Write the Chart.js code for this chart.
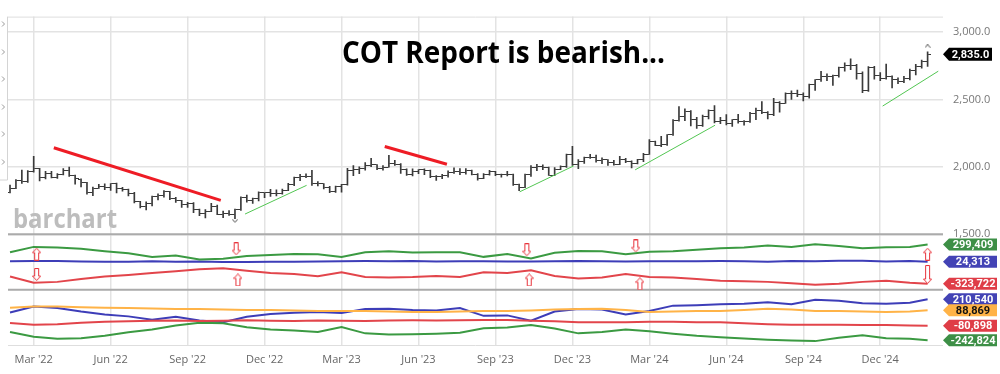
<!DOCTYPE html>
<html>
<head>
<meta charset="utf-8">
<title>COT Report is bearish</title>
<script src="https://cdn.jsdelivr.net/npm/chart.js@4.4.1/dist/chart.umd.min.js"></script>
<style>
  body { margin: 0; background: #fff; }
  canvas { display: block; }
</style>
</head>
<body>
<canvas id="cotChart" width="1000" height="374"></canvas>
<script>
// weekly gold futures bars, week 0 = week of Feb 7 2022, last = week of Jan 27 2025
const priceOpen = [
  1808,1842,1899,1889,1966,1985,1921,1954,1923,1945,
  1974,1934,1910,1882,1808,1842,1851,1850,1875,1840,
  1830,1801,1742,1703,1727,1781,1791,1815,1762,1749,
  1721,1728,1683,1655,1672,1709,1648,1657,1648,1681,
  1771,1754,1768,1809,1810,1800,1805,1826,1870,1921,
  1928,1929,1876,1874,1850,1817,1856,1867,1973,1983,
  1986,2011,2015,1990,1999,2025,2019,1981,1944,1969,
  1977,1970,1930,1929,1933,1961,1964,1960,1976,1946,
  1916,1940,1966,1942,1945,1945,1866,1845,1941,1994,
  2006,1999,1938,1984,2003,2089,2014,2037,2070,2071,
  2050,2051,2029,2018,2054,2038,2024,2051,2095,2186,
  2161,2165,2238,2345,2374,2413,2349,2308,2375,2419,
  2335,2345,2325,2349,2334,2339,2397,2421,2400,2385,
  2480,2472,2546,2547,2536,2524,2611,2646,2668,2667,
  2676,2736,2755,2749,2690,2567,2738,2681,2657,2671,
  2645,2635,2654,2715,2748,2779
];
const priceHigh = [
  1865,1905,1976,1972,2079,1990,1966,1967,1950,1988,
  1999,1940,1912,1885,1850,1870,1874,1876,1880,1848,
  1835,1812,1745,1740,1784,1800,1824,1819,1774,1752,
  1737,1735,1687,1684,1730,1716,1672,1676,1686,1777,
  1791,1768,1815,1810,1833,1830,1836,1878,1924,1944,
  1949,1975,1890,1876,1856,1858,1870,1990,2009,2000,
  2032,2063,2017,2010,2085,2049,2025,1986,1985,1980,
  1986,1976,1935,1945,1970,1992,1987,1988,1977,1950,
  1950,1974,1967,1947,1966,1947,1873,1946,2009,2019,
  2015,1999,1994,2008,2095,2152,2054,2073,2093,2088,
  2067,2054,2049,2078,2064,2044,2056,2100,2203,2192,
  2226,2240,2350,2448,2431,2418,2368,2385,2424,2454,
  2368,2388,2350,2390,2344,2404,2436,2485,2411,2508,
  2485,2549,2565,2570,2549,2614,2648,2708,2690,2682,
  2740,2772,2801,2760,2705,2745,2746,2700,2762,2675,
  2660,2671,2725,2760,2792,2853
];
const priceLow = [
  1806,1838,1878,1885,1960,1895,1910,1918,1915,1940,
  1930,1872,1852,1798,1787,1840,1830,1826,1806,1820,
  1784,1732,1695,1680,1711,1754,1776,1757,1737,1700,
  1700,1660,1638,1622,1667,1645,1623,1640,1616,1676,
  1738,1728,1747,1772,1780,1785,1797,1823,1860,1897,
  1920,1862,1858,1836,1809,1810,1813,1865,1934,1950,
  1975,2002,1980,1976,1997,2010,1952,1937,1932,1950,
  1943,1920,1900,1912,1924,1952,1942,1945,1941,1902,
  1912,1938,1934,1924,1932,1862,1823,1845,1930,1971,
  1980,1936,1935,1979,1996,2010,1987,2025,2062,2035,
  2024,2011,2012,2016,2031,1993,2022,2039,2093,2157,
  2150,2160,2234,2340,2342,2303,2286,2301,2355,2326,
  2320,2311,2300,2325,2309,2330,2351,2395,2356,2380,
  2405,2470,2500,2520,2490,2510,2568,2634,2640,2605,
  2665,2710,2722,2650,2550,2560,2650,2640,2650,2585,
  2617,2625,2645,2683,2733,2745
];
const priceClose = [
  1842,1899,1889,1966,1985,1921,1954,1923,1945,1974,
  1934,1911,1882,1808,1842,1851,1850,1875,1840,1830,
  1801,1742,1703,1727,1781,1791,1815,1762,1749,1721,
  1728,1683,1655,1672,1709,1648,1657,1648,1681,1771,
  1754,1768,1809,1810,1800,1805,1826,1870,1921,1928,
  1929,1876,1874,1850,1817,1856,1867,1973,1983,1986,
  2011,2015,1990,1999,2025,2019,1981,1944,1969,1977,
  1970,1930,1929,1933,1961,1964,1960,1976,1946,1916,
  1940,1966,1942,1945,1945,1866,1845,1941,1994,2006,
  1999,1938,1984,2003,2089,2014,2037,2070,2071,2050,
  2051,2029,2018,2054,2038,2024,2051,2095,2186,2161,
  2165,2238,2345,2374,2413,2349,2308,2375,2419,2335,
  2345,2325,2349,2334,2339,2397,2421,2400,2385,2480,
  2472,2546,2547,2536,2524,2611,2646,2668,2667,2676,
  2736,2755,2749,2694,2567,2738,2681,2657,2671,2645,
  2635,2654,2715,2748,2779,2835
];

// x axis ticks: first weekly bar of Mar / Jun / Sep / Dec
const tickWeeks = [4, 17, 30, 43, 56, 69, 82, 95, 108, 121, 134, 147];
const tickLabels = ["Mar '22", "Jun '22", "Sep '22", "Dec '22", "Mar '23", "Jun '23",
  "Sep '23", "Dec '23", "Mar '24", "Jun '24", "Sep '24", "Dec '24"];
const priceTicks = [1500, 2000, 2500, 3000];

// COT net positions, thousands of contracts, read every 4 weeks
const cotWeeks = [0,4,8,12,16,20,24,28,32,36,40,44,48,52,56,60,64,68,72,76,
  80,84,88,92,96,100,104,108,112,116,120,124,128,132,136,140,144,148,152,155];
const largeSpecNet = [176,260,252,229,191,160,99,122,60,72,117,132,149,142,99,176,191,172,176,176,
  102,148,76,168,195,191,145,183,191,214,237,252,283,260,303,275,237,255,260,299.409];
const smallSpecNet = [33,36,35,30,26,26,32,24,28,22,20,26,26,30,34,36,34,38,30,34,
  32,28,30,32,38,34,30,34,32,32,36,32,26,38,34,40,42,28,38,24.313];
const commercialNet = [-209,-309,-294,-247,-209,-186,-155,-124,-94,-78,-117,-155,-171,-206,-140,-217,-224,-217,-201,-217,
  -140,-155,-109,-201,-240,-224,-171,-217,-224,-247,-278,-286,-294,-317,-340,-324,-294,-278,-309,-323.722];
const managedMoneyNet = [65,132,114,76,44,22,-15,17,-23,-42,17,49,63,71,60,103,106,92,87,114,
  28,33,-26,76,103,98,44,81,141,146,155,162,178,157,205,194,167,162,173,210.54];
const swapDealerNet = [117,130,130,124,117,114,108,103,103,98,92,92,87,81,81,81,76,71,71,76,
  81,81,87,98,103,106,92,71,76,81,81,92,106,98,81,81,76,71,76,88.869];
const producerNet = [-51,-72,-64,-48,-37,-31,-26,-24,-28,-26,-22,-26,-28,-24,-26,-28,-24,-22,-23,-21,
  -19,-19,-26,-31,-42,-44,-42,-37,-37,-42,-44,-53,-64,-72,-72,-72,-74,-74,-78,-80.898];
const otherReportNet = [-152,-203,-225,-220,-193,-155,-123,-80,-48,-53,-98,-123,-134,-152,-96,-166,-180,-177,-169,-158,
  -109,-101,-74,-112,-166,-150,-123,-144,-171,-193,-209,-223,-236,-246,-252,-214,-187,-220,-225,-242.824];

// hand drawn trend lines on the price pane: [startWeek, startPrice, endWeek, endPrice]
const bearTrends = [[7.4, 2142, 35.6, 1751], [63.3, 2151, 73.8, 2019]];
const bullTrends = [[39.7, 1650, 50.1, 1863], [86.1, 1815, 95.2, 2007],
  [105.6, 1978, 119.1, 2309], [147.4, 2451, 156.8, 2710]];

// signal arrows in the upper COT pane
const arrowUpWeeks = [4.5, 38.5, 87.7, 106.4, 155];
const arrowUpValues = [145, -263, -263, -324, 145];
const arrowDownWeeks = [4.5, 38.2, 87.3, 105.7, 155];
const arrowDownValues = [-178, 229, 214, 275, -178];

// swing markers on the price pane
const swingLowWeeks = [38];
const swingLowValues = [1597];
const swingHighWeeks = [155];
const swingHighValues = [2899];

const GREEN = '#3b9a42';
const BLUE = '#3d3db8';
const RED = '#e2454b';
const ORANGE = '#ffb347';
const BAR = '#3a3a3a';

const weeks = priceClose.map((_, i) => i);
const xy = (xs, ys) => xs.map((x, i) => ({ x: x, y: ys[i] }));
const last = arr => arr[arr.length - 1];

// small canvases used as point styles
function tickImage(side) {
  const c = document.createElement('canvas');
  c.width = 7; c.height = 1;
  const g = c.getContext('2d');
  g.fillStyle = BAR;
  g.fillRect(side === 'open' ? 0 : 4, 0, 3, 1);
  return c;
}

function arrowImage(dir, len) {
  const c = document.createElement('canvas');
  c.width = 9; c.height = len;
  const g = c.getContext('2d');
  if (dir === 'down') { g.translate(0, len); g.scale(1, -1); }
  g.beginPath();
  g.moveTo(4.5, 0.5);
  g.lineTo(8.5, 5);
  g.lineTo(6.5, 5);
  g.lineTo(6.5, len - 0.5);
  g.lineTo(2.5, len - 0.5);
  g.lineTo(2.5, 5);
  g.lineTo(0.5, 5);
  g.closePath();
  g.fillStyle = '#fff';
  g.fill();
  g.strokeStyle = '#e8323a';
  g.lineWidth = 1;
  g.stroke();
  return c;
}

function swingImage(dir) {
  const c = document.createElement('canvas');
  c.width = 6; c.height = 5;
  const g = c.getContext('2d');
  g.strokeStyle = '#555';
  g.lineWidth = 1;
  g.beginPath();
  if (dir === 'high') {
    g.moveTo(0.5, 4.5); g.lineTo(3, 1); g.lineTo(5.5, 4.5);
  } else {
    g.moveTo(0.5, 0.5); g.quadraticCurveTo(3, 6, 5.5, 0.5);
  }
  g.stroke();
  return c;
}

const arrowUp = arrowImage('up', 13);
const arrowDown = arrowImage('down', 13);
const arrowDownLong = arrowImage('down', 19);

function trendDataset(t, color, width) {
  return {
    type: 'line',
    data: [{ x: t[0], y: t[1] }, { x: t[2], y: t[3] }],
    yAxisID: 'yPrice',
    borderColor: color,
    borderWidth: width,
    pointRadius: 0,
    order: 0
  };
}

function cotLine(values, color, axis) {
  return {
    type: 'line',
    data: xy(cotWeeks, values),
    yAxisID: axis,
    borderColor: color,
    borderWidth: 2,
    pointRadius: 0,
    tension: 0,
    order: 3
  };
}

const datasets = [
  ...bearTrends.map(t => trendDataset(t, '#ee1c25', 3)),
  ...bullTrends.map(t => trendDataset(t, '#52c652', 1)),
  // OHLC bars: range + open tick + close tick
  {
    type: 'bar',
    data: weeks.map(i => ({ x: i, y: [priceLow[i], priceHigh[i]] })),
    yAxisID: 'yPrice',
    backgroundColor: BAR,
    barThickness: 1,
    order: 2
  },
  { type: 'line', data: xy(weeks, priceOpen), showLine: false, pointStyle: tickImage('open'), pointRadius: 3, yAxisID: 'yPrice', order: 2 },
  { type: 'line', data: xy(weeks, priceClose), showLine: false, pointStyle: tickImage('close'), pointRadius: 3, yAxisID: 'yPrice', order: 2 },
  { type: 'line', data: xy(swingLowWeeks, swingLowValues), showLine: false, pointStyle: swingImage('low'), pointRadius: 3, yAxisID: 'yPrice', order: 2 },
  { type: 'line', data: xy(swingHighWeeks, swingHighValues), showLine: false, pointStyle: swingImage('high'), pointRadius: 3, yAxisID: 'yPrice', order: 2 },
  // upper COT pane
  cotLine(largeSpecNet, GREEN, 'yCot'),
  cotLine(smallSpecNet, BLUE, 'yCot'),
  cotLine(commercialNet, RED, 'yCot'),
  {
    type: 'line', data: xy(arrowUpWeeks, arrowUpValues), showLine: false,
    pointStyle: arrowUp, pointRadius: 4, yAxisID: 'yCot', order: 1
  },
  {
    type: 'line', data: xy(arrowDownWeeks, arrowDownValues), showLine: false,
    pointStyle: ctx => (ctx.dataIndex === arrowDownWeeks.length - 1 ? arrowDownLong : arrowDown),
    pointRadius: 4, yAxisID: 'yCot', order: 1
  },
  // lower COT pane
  cotLine(swapDealerNet, ORANGE, 'yNet'),
  cotLine(producerNet, RED, 'yNet'),
  cotLine(otherReportNet, GREEN, 'yNet'),
  cotLine(managedMoneyNet, BLUE, 'yNet')
];

// value tags on the right edge, drawn on top of everything
const valueTags = [
  { axis: 'yCot', value: last(largeSpecNet), bg: '#3d8f46', fg: '#fff' },
  { axis: 'yCot', value: last(smallSpecNet), bg: '#4343b5', fg: '#fff' },
  { axis: 'yCot', value: last(commercialNet), bg: '#df3d47', fg: '#fff' },
  { axis: 'yNet', value: last(managedMoneyNet), bg: '#4343b5', fg: '#fff' },
  { axis: 'yNet', value: last(swapDealerNet), bg: '#ffb347', fg: '#111' },
  { axis: 'yNet', value: last(producerNet), bg: '#df3d47', fg: '#fff' },
  { axis: 'yNet', value: last(otherReportNet), bg: '#3d8f46', fg: '#fff' }
];

function drawTag(ctx, x, y, w, h, text, bg, fg) {
  ctx.beginPath();
  ctx.moveTo(x, y);
  ctx.lineTo(x + 6, y - h / 2);
  ctx.lineTo(x + w, y - h / 2);
  ctx.lineTo(x + w, y + h / 2);
  ctx.lineTo(x + 6, y + h / 2);
  ctx.closePath();
  ctx.fillStyle = bg;
  ctx.fill();
  ctx.fillStyle = fg;
  ctx.font = 'bold 11px Roboto';
  ctx.textAlign = 'center';
  ctx.textBaseline = 'middle';
  ctx.fillText(text, x + 6 + (w - 6) / 2, y + 0.5);
}

const paneDecor = {
  id: 'paneDecor',
  beforeDatasetsDraw(chart) {
    const { ctx, chartArea } = chart;
    const s = chart.scales;
    ctx.save();
    // watermark
    ctx.font = 'bold 27px "Open Sans"';
    const wm = 'barchart';
    const ww = ctx.measureText(wm).width;
    ctx.translate(chartArea.left + 5, s.yPrice.bottom - 6);
    ctx.scale(104 / ww, 1);
    ctx.fillStyle = '#bdbdbd';
    ctx.textBaseline = 'alphabetic';
    ctx.fillText(wm, 0, 0);
    ctx.restore();

    ctx.save();
    // top border and pane separators
    ctx.strokeStyle = '#dedede';
    ctx.lineWidth = 1;
    ctx.beginPath();
    ctx.moveTo(chartArea.left, chartArea.top + 0.5);
    ctx.lineTo(chartArea.right, chartArea.top + 0.5);
    ctx.moveTo(chartArea.left, chartArea.bottom - 0.5);
    ctx.lineTo(chartArea.right, chartArea.bottom - 0.5);
    ctx.stroke();
    ctx.strokeStyle = '#ababab';
    ctx.lineWidth = 2;
    ctx.beginPath();
    [s.yCot.top, s.yNet.top].forEach(y => {
      ctx.moveTo(chartArea.left, y);
      ctx.lineTo(chartArea.right, y);
    });
    ctx.stroke();
    // collapsed toolbar on the left
    ctx.strokeStyle = '#d4d4d4';
    ctx.lineWidth = 1;
    ctx.beginPath();
    ctx.moveTo(7.5, chartArea.top);
    ctx.lineTo(7.5, 180);
    ctx.lineTo(0, 180);
    ctx.stroke();
    ctx.strokeStyle = '#999';
    ctx.beginPath();
    [24, 52, 79, 107, 134, 162].forEach(y => {
      ctx.moveTo(2, y - 2.5);
      ctx.lineTo(4.5, y);
      ctx.lineTo(2, y + 2.5);
    });
    ctx.stroke();
    ctx.restore();
  },
  afterDraw(chart) {
    const { ctx, chartArea } = chart;
    const s = chart.scales;
    ctx.save();
    // title
    const title = 'COT Report is bearish...';
    ctx.font = 'bold 30px "Open Sans"';
    const tw = ctx.measureText(title).width;
    ctx.translate(503.5, 63);
    ctx.scale(323 / tw, 1);
    ctx.fillStyle = '#000';
    ctx.textAlign = 'center';
    ctx.textBaseline = 'alphabetic';
    ctx.fillText(title, 0, 0);
    ctx.restore();

    ctx.save();
    // last price tag
    const lastPrice = last(priceClose);
    drawTag(ctx, chartArea.right, s.yPrice.getPixelForValue(lastPrice), 49, 13,
      lastPrice.toLocaleString('en-US', { minimumFractionDigits: 1, maximumFractionDigits: 1 }), '#000', '#fff');
    valueTags.forEach(t => {
      const y = s[t.axis].getPixelForValue(t.value);
      drawTag(ctx, chartArea.right, y, 54, 12,
        Math.round(t.value * 1000).toLocaleString('en-US'), t.bg, t.fg);
    });
    ctx.restore();
  }
};

const sideAxis = (weight, min, max) => ({
  type: 'linear',
  position: 'right',
  stack: 'panes',
  stackWeight: weight,
  min: min,
  max: max,
  grid: { display: false },
  border: { display: false },
  ticks: { display: false },
  afterFit: s => { s.width = 57; }
});

const chartConfig = {
  type: 'line',
  data: { datasets: datasets },
  options: {
    responsive: false,
    animation: false,
    events: [],
    devicePixelRatio: 1,
    layout: { padding: { left: 8, top: 7, right: 0, bottom: 0 } },
    plugins: { legend: { display: false }, tooltip: { enabled: false } },
    scales: {
      x: {
        type: 'linear',
        offset: false,
        min: -0.34,
        max: 157.6,
        grid: { color: '#e3e3e3', lineWidth: 1.5, drawTicks: false, offset: false },
        border: { display: false },
        ticks: {
          autoSkip: false,
          maxRotation: 0,
          padding: 7,
          color: '#666',
          font: { family: '"Open Sans"', size: 11 },
          callback: v => tickLabels[tickWeeks.indexOf(v)]
        },
        afterBuildTicks: s => { s.ticks = tickWeeks.map(v => ({ value: v })); },
        afterFit: s => { s.height = 28; }
      },
      yPrice: {
        type: 'linear',
        position: 'right',
        stack: 'panes',
        stackWeight: 224,
        min: 1500,
        max: 3115,
        grid: { color: '#e3e3e3', lineWidth: 1.5, drawTicks: false },
        border: { display: false },
        ticks: {
          padding: 10,
          color: '#777',
          font: { family: '"Open Sans"', size: 11 },
          callback: v => v.toLocaleString('en-US', { minimumFractionDigits: 1, maximumFractionDigits: 1 })
        },
        afterBuildTicks: s => { s.ticks = priceTicks.map(v => ({ value: v })); },
        afterFit: s => { s.width = 57; }
      },
      yCot: sideAxis(57, -417, 460),
      yNet: sideAxis(58, -306, 318)
    }
  },
  plugins: [paneDecor]
};

new Chart(document.getElementById('cotChart'), chartConfig);
</script>
</body>
</html>
